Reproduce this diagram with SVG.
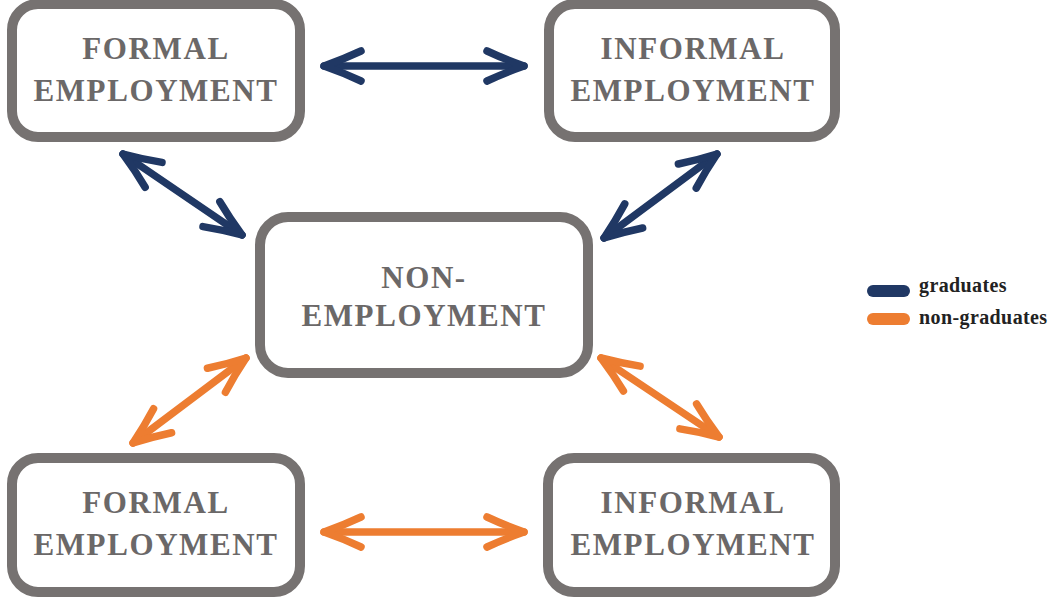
<svg xmlns="http://www.w3.org/2000/svg" width="1055" height="602" viewBox="0 0 1055 602">
<style>
.box{fill:#ffffff;stroke:#767271;stroke-width:10}
.lbl{font-family:"Liberation Serif","Times New Roman",serif;font-weight:bold;font-size:31px;fill:#6b6868;text-anchor:middle;letter-spacing:1.6px}
.leg{font-family:"Liberation Serif","Times New Roman",serif;font-weight:bold;font-size:20px;fill:#222222;letter-spacing:0.4px}
.navy{stroke:#203864;stroke-width:7.5;stroke-linecap:round;fill:none}
.orange{stroke:#ed7d31;stroke-width:7.5;stroke-linecap:round;fill:none}
</style>
<defs>
<marker id="hn" markerUnits="userSpaceOnUse" markerWidth="60" markerHeight="60" refX="0" refY="0" orient="auto-start-reverse" overflow="visible">
<path d="M-37,-15 Q-20,-7 0,0 Q-20,7 -37,15" fill="none" stroke="#203864" stroke-width="7.5" stroke-linecap="round" stroke-linejoin="round"/>
</marker>
<marker id="ho" markerUnits="userSpaceOnUse" markerWidth="60" markerHeight="60" refX="0" refY="0" orient="auto-start-reverse" overflow="visible">
<path d="M-37,-15 Q-20,-7 0,0 Q-20,7 -37,15" fill="none" stroke="#ed7d31" stroke-width="7.5" stroke-linecap="round" stroke-linejoin="round"/>
</marker>
</defs>
<rect width="1055" height="602" fill="#ffffff"/>
<g id="formal-grad">
<rect class="box" x="12" y="4" width="288" height="133" rx="26"/>
<text class="lbl" x="156" y="59">FORMAL</text>
<text class="lbl" x="156" y="101">EMPLOYMENT</text>
</g>
<g id="informal-grad">
<rect class="box" x="549" y="4" width="286" height="133" rx="26"/>
<text class="lbl" x="693" y="59">INFORMAL</text>
<text class="lbl" x="693" y="101">EMPLOYMENT</text>
</g>
<g id="non-employment">
<rect class="box" x="260" y="217" width="328" height="156" rx="28"/>
<text class="lbl" x="424" y="288">NON-</text>
<text class="lbl" x="424" y="326">EMPLOYMENT</text>
</g>
<g id="formal-nongrad">
<rect class="box" x="12" y="458" width="288" height="134" rx="26"/>
<text class="lbl" x="156" y="513">FORMAL</text>
<text class="lbl" x="156" y="555">EMPLOYMENT</text>
</g>
<g id="informal-nongrad">
<rect class="box" x="548" y="458" width="287" height="134" rx="26"/>
<text class="lbl" x="693" y="513">INFORMAL</text>
<text class="lbl" x="693" y="555">EMPLOYMENT</text>
</g>
<g id="connectors">
<line class="navy" x1="324" y1="66" x2="524" y2="66" marker-start="url(#hn)" marker-end="url(#hn)"/>
<line class="navy" x1="123" y1="154" x2="242" y2="235" marker-start="url(#hn)" marker-end="url(#hn)"/>
<line class="navy" x1="717" y1="154" x2="604" y2="238" marker-start="url(#hn)" marker-end="url(#hn)"/>
<line class="orange" x1="246" y1="358" x2="133" y2="443" marker-start="url(#ho)" marker-end="url(#ho)"/>
<line class="orange" x1="601" y1="358" x2="719" y2="437" marker-start="url(#ho)" marker-end="url(#ho)"/>
<line class="orange" x1="324" y1="532" x2="524" y2="532" marker-start="url(#ho)" marker-end="url(#ho)"/>
</g>
<g id="legend">
<line x1="873" y1="291" x2="904" y2="291" stroke="#203864" stroke-width="12" stroke-linecap="round"/>
<text class="leg" x="919" y="292">graduates</text>
<line x1="873" y1="319" x2="904" y2="319" stroke="#ed7d31" stroke-width="12" stroke-linecap="round"/>
<text class="leg" x="919" y="324">non-graduates</text>
</g>
</svg>
